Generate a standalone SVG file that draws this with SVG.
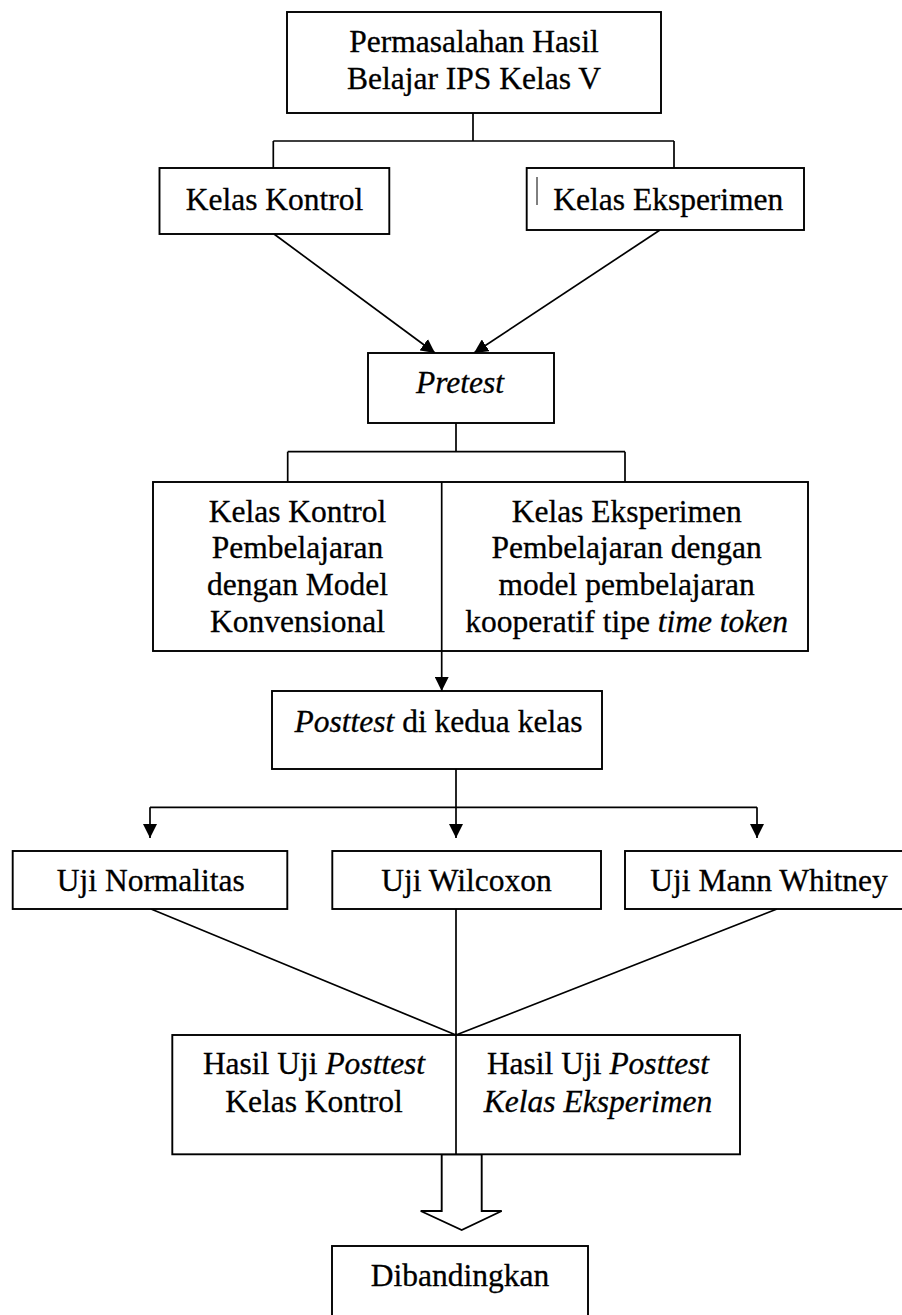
<svg xmlns="http://www.w3.org/2000/svg" width="902" height="1315" viewBox="0 0 902 1315">
<style>
.box{fill:#fff;stroke:#000;stroke-width:1.9}
.ln{fill:none;stroke:#000;stroke-width:1.7}
.t{font-family:"Liberation Serif","Times New Roman",serif;font-size:31.5px;fill:#000;stroke:#000;stroke-width:0.3;text-anchor:middle}
.i{font-style:italic}
</style>
<defs>
<marker id="ah" viewBox="0 0 14 14" markerWidth="14" markerHeight="14" refX="14" refY="7" orient="auto" markerUnits="userSpaceOnUse">
<path d="M0,0 L14,7 L0,14 Z" fill="#000"/>
</marker>
</defs>
<rect width="902" height="1315" fill="#fff"/>
<g id="connectors">
<path class="ln" d="M473,113 V141 M273.3,141 H674 M273.3,141 V168 M674,141 V168"/>
<line class="ln" x1="274" y1="234" x2="435" y2="353" marker-end="url(#ah)"/>
<line class="ln" x1="660" y1="230" x2="474" y2="353" marker-end="url(#ah)"/>
<path class="ln" d="M456,423 V451.7 M287.7,451.7 H625 M287.7,451.7 V482 M625,451.7 V482"/>
<line class="ln" x1="441.7" y1="482" x2="441.7" y2="691" marker-end="url(#ah)"/>
<path class="ln" d="M456,769 V807.3 M150,807.3 H757"/>
<line class="ln" x1="150" y1="807.3" x2="150" y2="838" marker-end="url(#ah)"/>
<line class="ln" x1="456" y1="807.3" x2="456" y2="838" marker-end="url(#ah)"/>
<line class="ln" x1="757" y1="807.3" x2="757" y2="838" marker-end="url(#ah)"/>
<path class="ln" d="M151,909 L456,1035 M456,909 V1035 M777,909 L456,1035"/>
<polygon class="box" points="441.7,1154.3 441.7,1211 420.7,1211 461.7,1230 501.7,1211 481.7,1211 481.7,1154.3"/>
</g>
<g id="n-masalah">
<rect class="box" x="287" y="12" width="374" height="101"/>
<text class="t" x="474" y="52">Permasalahan Hasil</text>
<text class="t" x="474" y="89">Belajar IPS Kelas V</text>
</g>
<g id="n-kontrol">
<rect class="box" x="159.5" y="168" width="229.8" height="66"/>
<text class="t" x="274.5" y="210">Kelas Kontrol</text>
</g>
<g id="n-eksperimen">
<rect class="box" x="526.7" y="168" width="277.3" height="62"/>
<line x1="537" y1="177" x2="537" y2="205" stroke="#000" stroke-width="1"/>
<text class="t" x="553.3" y="210" style="text-anchor:start">Kelas Eksperimen</text>
</g>
<g id="n-pretest">
<rect class="box" x="368" y="353" width="186" height="70"/>
<text class="t i" x="460" y="393">Pretest</text>
</g>
<g id="n-pembelajaran">
<rect class="box" x="153" y="482" width="655" height="169"/>
<line class="ln" x1="441.7" y1="482" x2="441.7" y2="651"/>
<text class="t" x="297.5" y="521.7">Kelas Kontrol</text>
<text class="t" x="297.5" y="558.3">Pembelajaran</text>
<text class="t" x="297.5" y="595">dengan Model</text>
<text class="t" x="297.5" y="631.7">Konvensional</text>
<text class="t" x="626.7" y="521.7">Kelas Eksperimen</text>
<text class="t" x="626.7" y="558.3">Pembelajaran dengan</text>
<text class="t" x="626.7" y="595">model pembelajaran</text>
<text class="t" x="626.7" y="631.7">kooperatif tipe <tspan class="i">time token</tspan></text>
</g>
<g id="n-posttest">
<rect class="box" x="272" y="691" width="330" height="78"/>
<text class="t" x="438.5" y="731.7"><tspan class="i">Posttest</tspan> di kedua kelas</text>
</g>
<g id="n-normalitas">
<rect class="box" x="12.7" y="851" width="274.6" height="58"/>
<text class="t" x="150.8" y="891">Uji Normalitas</text>
</g>
<g id="n-wilcoxon">
<rect class="box" x="332.3" y="851" width="268.7" height="58"/>
<text class="t" x="466.5" y="891">Uji Wilcoxon</text>
</g>
<g id="n-mannwhitney">
<rect class="box" x="625" y="851" width="278" height="58"/>
<text class="t" x="769" y="891">Uji Mann Whitney</text>
</g>
<g id="n-hasil">
<rect class="box" x="172.3" y="1035" width="567.7" height="119.3"/>
<line class="ln" x1="456" y1="1035" x2="456" y2="1154.3"/>
<text class="t" x="314" y="1074">Hasil Uji <tspan class="i">Posttest</tspan></text>
<text class="t" x="314" y="1111.7">Kelas Kontrol</text>
<text class="t" x="598" y="1074">Hasil Uji <tspan class="i">Posttest</tspan></text>
<text class="t i" x="598" y="1111.7">Kelas Eksperimen</text>
</g>
<g id="n-dibandingkan">
<rect class="box" x="332" y="1246" width="256" height="80"/>
<text class="t" x="460" y="1286">Dibandingkan</text>
</g>
</svg>
